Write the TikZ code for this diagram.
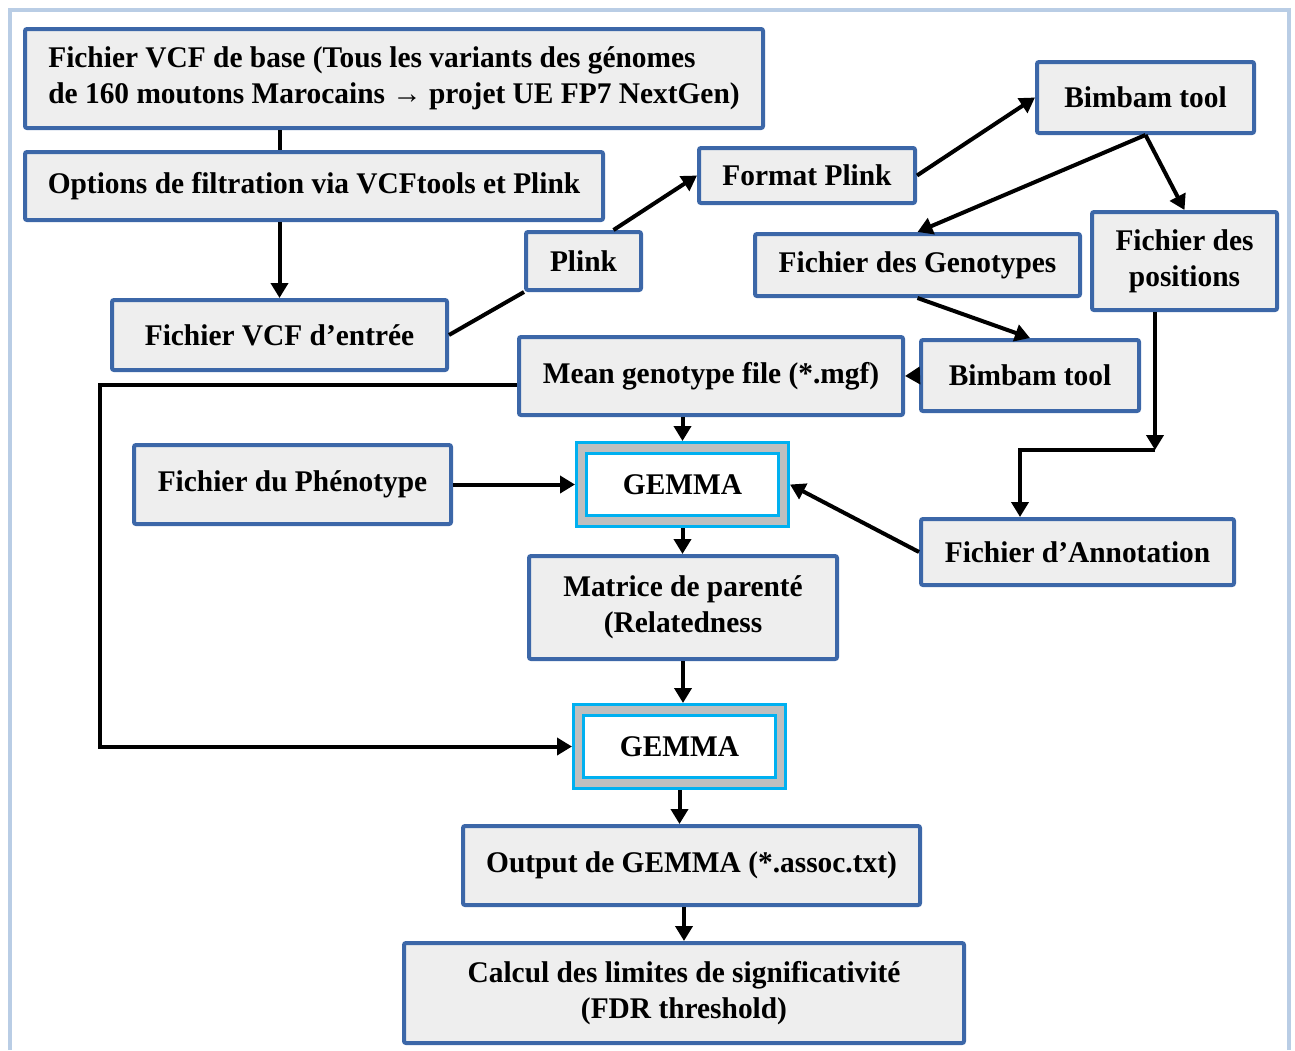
\documentclass[tikz,border=0pt]{standalone}
\usepackage{fontspec}
\setmainfont{Liberation Serif}[FakeStretch=0.98]
\usetikzlibrary{shapes, arrows.meta, calc}
\definecolor{boxblue}{RGB}{60,103,168}
\definecolor{boxfill}{RGB}{238,238,238}
\definecolor{framebl}{RGB}{185,205,229}
\definecolor{gemcyan}{RGB}{0,176,240}
\definecolor{gemgray}{RGB}{191,191,191}

\begin{document}
\begin{tikzpicture}[x=1pt, y=-1pt, font=\bfseries\fontsize{30}{36}\selectfont]
						\tikzstyle{stepbox}=[
						draw=boxblue,
						fill=boxfill,
						line width=4pt,
						rounded corners=2pt,
						align=center,
						inner sep=0pt
						]
						\tikzstyle{gemmaframe}=[
						draw=gemcyan,
						fill=gemgray,
						line width=3pt,
						minimum width=212pt,
						minimum height=84pt
						]
						\tikzstyle{gemmabox}=[
						draw=gemcyan,
						fill=white,
						line width=3pt,
						minimum width=192pt,
						minimum height=62pt
						]
						\tikzstyle{link}=[line width=4pt]
						\tikzstyle{arrow}=[link, -{Triangle[length=15pt,width=17pt]}]
						\useasboundingbox (0,0) rectangle (1295,1050);
						\draw[framebl, line width=4pt] (10,1050) -- (10,10) -- (1289,10) -- (1289,1050);
						%
						\node[stepbox, align=left, minimum width=738pt, minimum height=99pt] (base) at (394,78.5) {Fichier VCF de base (Tous les variants des génomes\\de 160 moutons Marocains → projet UE FP7 NextGen)};
						\node[stepbox, minimum width=578pt, minimum height=68pt] (options) at (314,186) {Options de filtration via VCFtools et Plink};
						\node[stepbox, minimum width=335pt, minimum height=70pt] (vcf) at (279.5,335) {Fichier VCF d’entrée};
						\node[stepbox, minimum width=115pt, minimum height=58pt] (plink) at (583.5,261) {Plink};
						\node[stepbox, minimum width=216pt, minimum height=55pt] (format) at (807,175.5) {Format Plink};
						\node[stepbox, minimum width=217pt, minimum height=71pt] (bimbamA) at (1145.5,97.5) {Bimbam tool};
						\node[stepbox, minimum width=325pt, minimum height=62pt] (geno) at (917.5,265) {Fichier des Genotypes};
						\node[stepbox, minimum width=185pt, minimum height=98pt] (positions) at (1184.5,261) {Fichier des\\positions};
						\node[stepbox, minimum width=218pt, minimum height=71pt] (bimbamB) at (1030,375.5) {Bimbam tool};
						\node[stepbox, minimum width=384pt, minimum height=78pt] (mean) at (711,376) {Mean genotype file (*.mgf)};
						\node[stepbox, minimum width=317pt, minimum height=79pt] (pheno) at (292.5,484.5) {Fichier du Phénotype};
						\node[gemmaframe] (gemmaA) at (682.5,484.5) {};
						\node[gemmabox] (gemmaAin) at (gemmaA) {GEMMA};
						\node[stepbox, minimum width=313pt, minimum height=66pt] (annot) at (1077.5,552) {Fichier d’Annotation};
						\node[stepbox, minimum width=308pt, minimum height=103pt] (matrice) at (683,607.5) {Matrice de parenté\\(Relatedness};
						\node[gemmaframe] (gemmaB) at (679.5,746.5) {};
						\node[gemmabox] (gemmaBin) at (gemmaB) {GEMMA};
						\node[stepbox, minimum width=457pt, minimum height=79pt] (output) at (691.5,865.5) {Output de GEMMA (*.assoc.txt)};
						\node[stepbox, minimum width=560pt, minimum height=100pt] (calcul) at (684,993) {Calcul des limites de significativité\\(FDR threshold)};
						%
						\coordinate (bendA) at (1155,450);
						\coordinate (bendB) at (1020,450);
						\coordinate (loop) at (100,0);
						%
						\draw[link] (vcf.north |- base.south) -- (vcf.north |- options.north);
						\draw[arrow] (vcf.north |- options.south) -- (vcf.north);
						\draw[link] (vcf.east) -- (plink.south west);
						\draw[arrow] ([xshift=30pt]plink.north) -- (format.west);
						\draw[arrow] (format.east) -- (bimbamA.west);
						\draw[arrow] (bimbamA.south) -- (geno.north);
						\draw[arrow] (bimbamA.south) -- (positions.north);
						\draw[arrow] (geno.south) -- (bimbamB.north);
						\draw[arrow] (bimbamB.west) -- (mean.east);
						\draw[arrow] (positions.south -| bendA) -- (bendA);
						\draw[arrow] (bendA) -- (bendB) -- (annot.north -| bendB);
						\draw[arrow] (gemmaA.north |- mean.south) -- (gemmaA.north);
						\draw[arrow] (pheno.east) -- (gemmaA.west);
						\draw[arrow] (annot.west) -- (gemmaA.east);
						\draw[arrow] (gemmaA.south) -- (gemmaA.south |- matrice.north);
						\draw[arrow] (matrice.south) -- (matrice.south |- gemmaB.north);
						\draw[arrow] ([yshift=-9pt]mean.west) -| (gemmaB.west -| loop) -- (gemmaB.west);
						\draw[arrow] (gemmaB.south) -- (gemmaB.south |- output.north);
						\draw[arrow] (calcul.north |- output.south) -- (calcul.north);
					\end{tikzpicture}
\end{document}
